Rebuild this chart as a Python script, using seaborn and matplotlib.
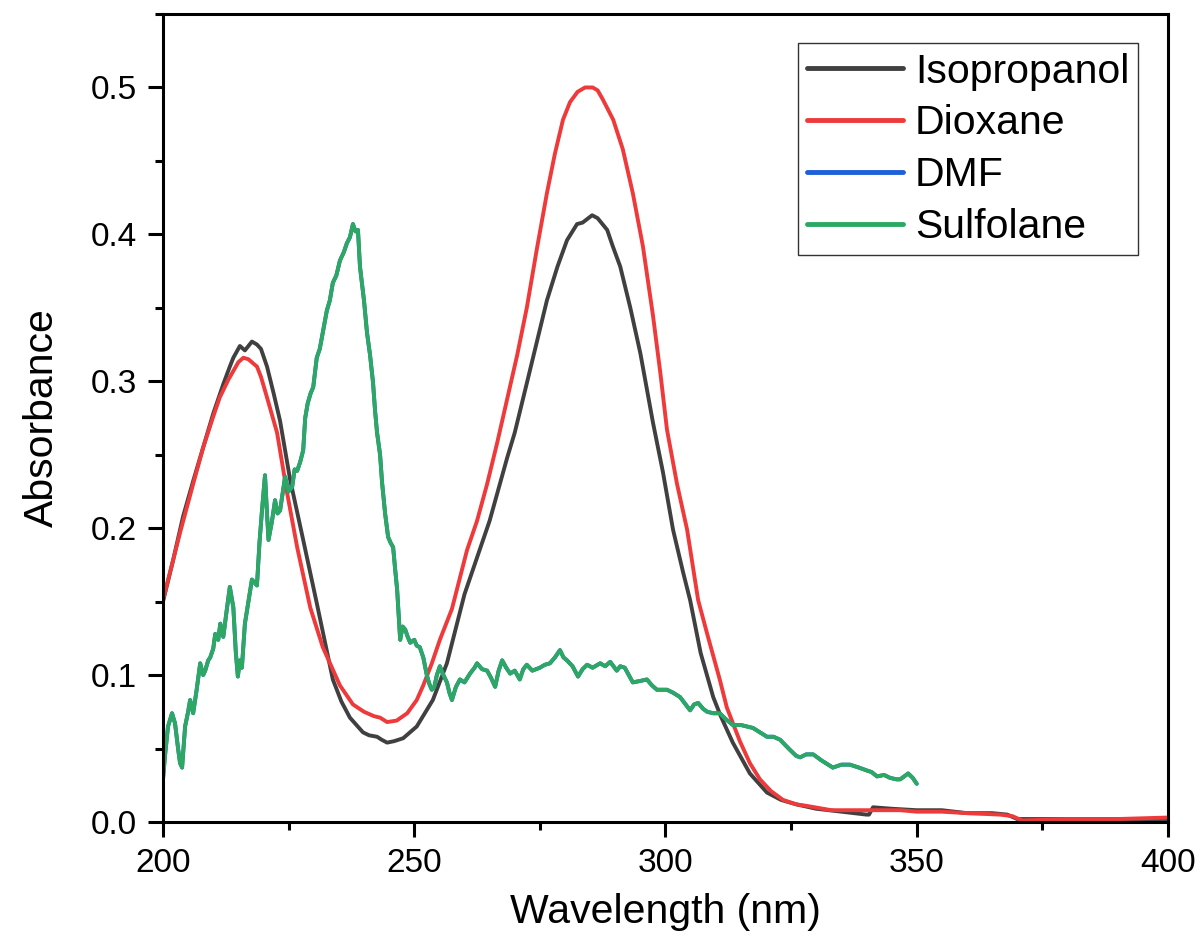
import numpy as np
import pandas as pd
import matplotlib
matplotlib.use("Agg")
import matplotlib.pyplot as plt
from matplotlib.ticker import MultipleLocator, FormatStrFormatter
import seaborn as sns

# ---------------- data ----------------
iso_wl = [200, 202, 204, 206, 208, 210, 212, 213.3, 214, 215.3, 216.3, 217.7, 218.7, 219.5,
          220.7, 222, 223.3, 225.3, 227.9, 230.6, 233.8, 235.5, 237.2, 239.8, 241, 242.6,
          243.5, 244.6, 246, 247.8, 250.5, 253.7, 256.5, 260, 263, 265, 268.5, 270, 272.5,
          276.4, 278.5, 280.4, 282.4, 283.5, 285.4, 286.5, 288.4, 289.5, 291, 293, 295, 297.5,
          299.5, 301.5, 303.5, 304.9, 307, 309.5, 311, 313.4, 316.8, 320.2, 323, 326, 330, 335,
          340, 340.5, 341.3, 345, 350, 355, 360, 365, 368, 370, 375, 380, 390, 400]
iso_abs = [0.150, 0.178, 0.208, 0.232, 0.255, 0.278, 0.298, 0.310, 0.316, 0.324, 0.321, 0.327,
           0.325, 0.322, 0.310, 0.292, 0.273, 0.233, 0.192, 0.149, 0.097, 0.082, 0.071, 0.061,
           0.059, 0.058, 0.056, 0.054, 0.055, 0.057, 0.065, 0.083, 0.108, 0.155, 0.185, 0.205,
           0.248, 0.265, 0.300, 0.355, 0.378, 0.396, 0.407, 0.408, 0.413, 0.411, 0.403, 0.392,
           0.378, 0.350, 0.319, 0.272, 0.238, 0.199, 0.170, 0.151, 0.115, 0.085, 0.072, 0.054,
           0.033, 0.020, 0.015, 0.012, 0.009, 0.007, 0.005, 0.005, 0.010, 0.009, 0.008, 0.008,
           0.006, 0.006, 0.005, 0.002, 0.002, 0.002, 0.002, 0.002]

diox_wl = [200, 202, 203.4, 206, 208, 210, 211.3, 213, 214, 215, 216, 217, 218, 218.7, 219.5,
           220.7, 222.7, 224.7, 226.7, 229.3, 231.8, 235.2, 237.8, 240, 242, 243.2, 244.6,
           246.5, 248.6, 250.5, 251.8, 253.5, 255.1, 257.5, 260.5, 262.5, 264.5, 266.5, 268.5,
           270.5, 272.4, 274.4, 276.4, 278, 279.6, 281, 282.5, 284, 285.5, 286.5, 287.5, 289.6,
           291.5, 293.5, 295.5, 297.5, 299, 300.3, 302.3, 304.3, 306.5, 308.3, 310.8, 312.2,
           314.8, 316.8, 318.8, 321, 323.4, 326, 328, 333, 340, 346.7, 350, 355, 360, 366.6,
           369, 371, 380, 390, 400]
diox_abs = [0.151, 0.178, 0.197, 0.230, 0.255, 0.276, 0.289, 0.301, 0.307, 0.313, 0.316, 0.315,
            0.312, 0.310, 0.303, 0.289, 0.265, 0.224, 0.187, 0.146, 0.119, 0.093, 0.080, 0.075,
            0.072, 0.071, 0.068, 0.069, 0.074, 0.083, 0.093, 0.108, 0.124, 0.145, 0.185, 0.205,
            0.230, 0.258, 0.288, 0.318, 0.350, 0.390, 0.428, 0.455, 0.478, 0.490, 0.497, 0.500,
            0.500, 0.498, 0.492, 0.478, 0.458, 0.428, 0.392, 0.345, 0.305, 0.267, 0.230, 0.199,
            0.151, 0.128, 0.097, 0.078, 0.055, 0.040, 0.029, 0.021, 0.015, 0.012, 0.011, 0.008,
            0.008, 0.008, 0.007, 0.007, 0.006, 0.005, 0.004, 0.001, 0.002, 0.002, 0.003]

sulf_wl = [200.0, 200.4, 201.0, 201.8, 202.4, 203.0, 203.4, 203.8, 204.4, 205.0, 205.4, 206.0,
           206.7, 207.4, 208.0, 208.4, 209.0, 209.4, 210.0, 210.4, 211.0, 211.4, 212.0, 212.6,
           213.3, 214.0, 214.5, 214.9, 215.3, 215.7, 216.3, 217.0, 217.7, 218.2, 218.7, 219.2,
           219.7, 220.3, 220.7, 221.0, 221.7, 222.3, 222.8, 223.3, 224.3, 225.0, 225.7, 226.2,
           226.7, 227.3, 227.9, 228.3, 228.8, 229.4, 229.9, 230.6, 231.2, 231.8, 232.6, 233.2,
           233.8, 234.5, 235.2, 236.0, 236.6, 237.2, 237.8, 238.3, 238.8, 239.2, 240.0, 240.6,
           241.2, 241.8, 242.2, 242.6, 243.2, 243.6, 244.2, 244.8, 245.3, 245.8, 246.2, 246.6,
           247.2, 247.7, 248.2, 248.7, 249.2, 250.0, 250.5, 251.1, 251.8, 252.5, 253.0, 253.5,
           254.0, 254.5, 255.1, 255.8, 256.5, 257.0, 257.5, 258.3, 259.1, 260.0, 261.1, 262.0,
           262.5, 263.5, 264.5, 265.3, 266.1, 266.8, 267.5, 268.3, 269.1, 270.0, 271.0, 271.7,
           272.4, 273.5, 275.0, 276.0, 277.0, 278.0, 279.0, 279.7, 280.4, 281.5, 282.6, 283.5,
           284.4, 285.5, 287.0, 288.0, 289.0, 290.3, 291.0, 291.9, 293.5, 295.0, 296.3, 297.3,
           298.3, 300.3, 301.5, 302.9, 304.0, 304.9, 305.7, 306.5, 307.5, 308.3, 309.5, 310.8,
           312.0, 313.4, 315.0, 316.2, 317.4, 318.8, 320.2, 321.5, 322.8, 324.5, 326.0, 326.8,
           328.0, 329.4, 331.0, 333.3, 335.0, 336.7, 338.5, 340.1, 341.0, 342.1, 343.5, 344.7,
           346.0, 346.7, 347.5, 348.3, 349.2, 350.0]
sulf_abs = [0.029, 0.045, 0.065, 0.074, 0.067, 0.050, 0.040, 0.037, 0.065, 0.075, 0.083, 0.074,
            0.090, 0.108, 0.100, 0.103, 0.110, 0.112, 0.118, 0.128, 0.124, 0.135, 0.126, 0.142,
            0.160, 0.146, 0.115, 0.099, 0.110, 0.105, 0.135, 0.150, 0.165, 0.163, 0.161, 0.190,
            0.212, 0.236, 0.210, 0.192, 0.205, 0.219, 0.210, 0.212, 0.235, 0.225, 0.228, 0.240,
            0.239, 0.245, 0.253, 0.275, 0.285, 0.292, 0.296, 0.316, 0.322, 0.333, 0.348, 0.355,
            0.367, 0.372, 0.382, 0.388, 0.394, 0.398, 0.407, 0.402, 0.403, 0.378, 0.355, 0.333,
            0.318, 0.299, 0.280, 0.265, 0.250, 0.231, 0.210, 0.194, 0.190, 0.187, 0.172, 0.158,
            0.124, 0.133, 0.131, 0.126, 0.122, 0.124, 0.120, 0.119, 0.112, 0.100, 0.094, 0.090,
            0.092, 0.100, 0.106, 0.100, 0.095, 0.088, 0.083, 0.092, 0.097, 0.095, 0.101, 0.105,
            0.108, 0.104, 0.103, 0.098, 0.092, 0.103, 0.110, 0.105, 0.101, 0.103, 0.097, 0.104,
            0.107, 0.103, 0.105, 0.107, 0.108, 0.112, 0.117, 0.112, 0.110, 0.106, 0.099, 0.104,
            0.107, 0.105, 0.108, 0.106, 0.109, 0.103, 0.106, 0.105, 0.095, 0.096, 0.097, 0.093,
            0.090, 0.090, 0.088, 0.085, 0.080, 0.076, 0.080, 0.081, 0.077, 0.075, 0.074, 0.074,
            0.070, 0.066, 0.066, 0.065, 0.064, 0.061, 0.058, 0.058, 0.056, 0.050, 0.045, 0.044,
            0.046, 0.046, 0.042, 0.037, 0.039, 0.039, 0.037, 0.035, 0.034, 0.031, 0.032, 0.030,
            0.029, 0.029, 0.031, 0.033, 0.030, 0.026]

# DMF trace lies underneath the Sulfolane trace (only its end point shows)
dmf_wl = list(sulf_wl)
dmf_abs = list(sulf_abs)

solvents = ["Isopropanol", "Dioxane", "DMF", "Sulfolane"]
colors = ["#404040", "#ee3a3a", "#1f5fd8", "#2ca863"]
x_ticks = [200, 250, 300, 350, 400]
y_ticks = [0.0, 0.1, 0.2, 0.3, 0.4, 0.5]

frames = []
for name, wl, ab in [("Isopropanol", iso_wl, iso_abs), ("Dioxane", diox_wl, diox_abs),
                     ("DMF", dmf_wl, dmf_abs), ("Sulfolane", sulf_wl, sulf_abs)]:
    frames.append(pd.DataFrame({"wl": wl, "abs": ab, "solvent": name}))
df = pd.concat(frames, ignore_index=True)

# ---------------- styling ----------------
sns.set_style("ticks")
plt.rcParams["font.family"] = ["Liberation Sans", "DejaVu Sans"]
plt.rcParams["text.color"] = "black"
plt.rcParams["axes.labelcolor"] = "black"
plt.rcParams["xtick.color"] = "black"
plt.rcParams["ytick.color"] = "black"

fig = plt.figure(figsize=(12.02, 9.52), dpi=100)
ax = fig.add_axes([0.1356, 0.1366, 0.8361, 0.8487])

sns.lineplot(data=df, x="wl", y="abs", hue="solvent", hue_order=solvents,
             palette=dict(zip(solvents, colors)), estimator=None, sort=False,
             linewidth=2.8, ax=ax)

ax.set_xlim(200, 400)
ax.set_ylim(0, 0.55)
ax.set_xticks(x_ticks)
ax.set_yticks(y_ticks)
ax.xaxis.set_minor_locator(MultipleLocator(25))
ax.yaxis.set_minor_locator(MultipleLocator(0.05))
ax.yaxis.set_major_formatter(FormatStrFormatter("%.1f"))

for s in ax.spines.values():
    s.set_linewidth(2.2)
    s.set_color("black")
    s.set_visible(True)

ax.tick_params(axis="both", which="major", direction="out", length=10.5, width=2.2,
               labelsize=24, pad=8, top=False, right=False, color="black",
               labelcolor="black")
ax.tick_params(axis="both", which="minor", direction="out", length=6, width=2.2,
               top=False, right=False, color="black")

ax.set_xlabel("Wavelength (nm)", fontsize=29.5, labelpad=10, color="black")
ax.set_ylabel("Absorbance", fontsize=29.5, labelpad=22, color="black")

handles, labels = ax.get_legend_handles_labels()
leg = ax.legend(handles, labels, loc="upper right", fontsize=29.5, frameon=True,
                fancybox=False, edgecolor="#333333", framealpha=1,
                handlelength=2.35, handletextpad=0.3, labelspacing=0.34,
                borderpad=0.22, borderaxespad=0.72)
leg.get_frame().set_linewidth(1.0)
for text in leg.get_texts():
    text.set_color("black")
for line in leg.get_lines():
    line.set_linewidth(3.5)

fig.savefig("out.png", dpi=100, facecolor="white")
